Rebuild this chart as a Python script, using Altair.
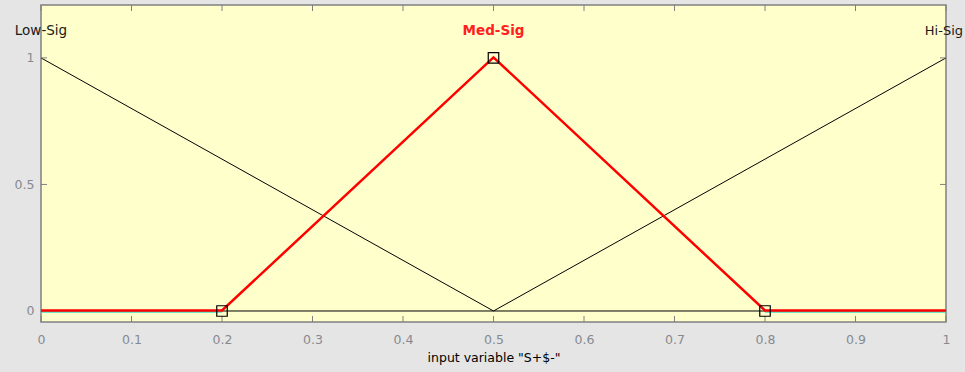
import altair as alt
import pandas as pd

# membership functions
low_x = [0.0, 0.5, 1.0]
low_y = [1.0, 0.0, 0.0]
hi_x = [0.0, 0.5, 1.0]
hi_y = [0.0, 0.0, 1.0]
med_x = [0.0, 0.2, 0.5, 0.8, 1.0]
med_y = [0.0, 0.0, 1.0, 0.0, 0.0]
marker_x = [0.2, 0.5, 0.8]
marker_y = [0.0, 1.0, 0.0]
cyan_x = [0.0, 0.2, 0.8, 1.0]
cyan_seg = ["a", "a", "b", "b"]
low_label = ["Low-Sig"]
low_label_x = [0.0]
hi_label = ["Hi-Sig"]
hi_label_x = [1.0]
med_label = ["Med-Sig"]
med_label_x = [0.5]
x_ticks = [0, 0.1, 0.2, 0.3, 0.4, 0.5, 0.6, 0.7, 0.8, 0.9, 1.0]
y_ticks = [0, 0.5, 1.0]

W, H = 905, 317
YMIN, YMAX = -0.0435, 1.209
xs = alt.Scale(domain=[0, 1], nice=False, zero=False)
ys = alt.Scale(domain=[YMIN, YMAX], nice=False, zero=False)
FONT = "DejaVu Sans"

X = alt.X("x:Q", scale=xs, axis=alt.Axis(values=x_ticks, format="~g", ticks=False, domain=False, grid=False,
        labelFont=FONT, labelFontSize=12.5, labelColor="#858a92", labelPadding=11,
        title='input variable "S+$-"', titleFont=FONT, titleFontSize=12.5, titleFontWeight="normal",
        titleColor="black", titlePadding=6, labelFlush=False))
Y = alt.Y("y:Q", scale=ys, axis=alt.Axis(values=y_ticks, format="~g", ticks=False, domain=False, grid=False,
        labelFont=FONT, labelFontSize=12.5, labelColor="#858a92", labelPadding=7, title=None,
        labelFlush=False))

low_df = pd.DataFrame({"x": low_x, "y": low_y})
hi_df = pd.DataFrame({"x": hi_x, "y": hi_y})
med_df = pd.DataFrame({"x": med_x, "y": med_y})
mk_df = pd.DataFrame({"x": marker_x, "y": marker_y})
cy_df = pd.DataFrame({"x": cyan_x, "y": [0.0] * 4, "s": cyan_seg})
lowl_df = pd.DataFrame({"x": low_label_x, "y": [1.105], "t": low_label})
hil_df = pd.DataFrame({"x": hi_label_x, "y": [1.105], "t": hi_label})
medl_df = pd.DataFrame({"x": med_label_x, "y": [1.105], "t": med_label})
xt_df = pd.DataFrame({"x": x_ticks})
yt_df = pd.DataFrame({"y": y_ticks})

low = alt.Chart(low_df).mark_line(color="black", strokeWidth=1).encode(x=X, y=Y)
hi = alt.Chart(hi_df).mark_line(color="black", strokeWidth=1).encode(x="x:Q", y="y:Q")
cyan = alt.Chart(cy_df).mark_line(color="#40e0c0", strokeWidth=1.5, yOffset=1).encode(
    x="x:Q", y="y:Q", detail="s:N")
med = alt.Chart(med_df).mark_line(color="red", strokeWidth=2.5, yOffset=-0.5).encode(x="x:Q", y="y:Q")
mk = alt.Chart(mk_df).mark_point(shape="square", size=110, filled=False, color="black",
                                  strokeWidth=1.2, opacity=1).encode(x="x:Q", y="y:Q")
txt_low = alt.Chart(lowl_df).mark_text(font=FONT, fontSize=13.5, align="center", baseline="middle",
                                       color="#1a1a1a").encode(x="x:Q", y="y:Q", text="t:N")
txt_hi = alt.Chart(hil_df).mark_text(font=FONT, fontSize=13, align="right", baseline="middle",
                                     dx=17, color="#1a1a1a").encode(x="x:Q", y="y:Q", text="t:N")
txt_med = alt.Chart(medl_df).mark_text(font=FONT, fontSize=13.5, align="center", baseline="middle",
                                       color="#ff2020", fontWeight="bold").encode(x="x:Q", y="y:Q", text="t:N")

tickc = "#808080"
bt = alt.Chart(xt_df).mark_rule(color=tickc).encode(x="x:Q", y=alt.value(H - 6), y2=alt.value(H))
tt = alt.Chart(xt_df).mark_rule(color=tickc).encode(x="x:Q", y=alt.value(0), y2=alt.value(6))
lt = alt.Chart(yt_df).mark_rule(color=tickc).encode(y="y:Q", x=alt.value(0), x2=alt.value(6))
rt = alt.Chart(yt_df).mark_rule(color=tickc).encode(y="y:Q", x=alt.value(W - 6), x2=alt.value(W))

chart = alt.layer(low, hi, bt, tt, lt, rt, cyan, med, mk, txt_low, txt_hi, txt_med).properties(
    width=W, height=H,
    background="#e5e5e5",
    padding={"left": 41, "top": 5, "right": 19, "bottom": 50},
    autosize=alt.AutoSizeParams(type="none"),
).configure_view(fill="#ffffcc", stroke="#808080", strokeWidth=1.5)

chart.save("out.html", embed_options={"renderer": "svg", "actions": False})
